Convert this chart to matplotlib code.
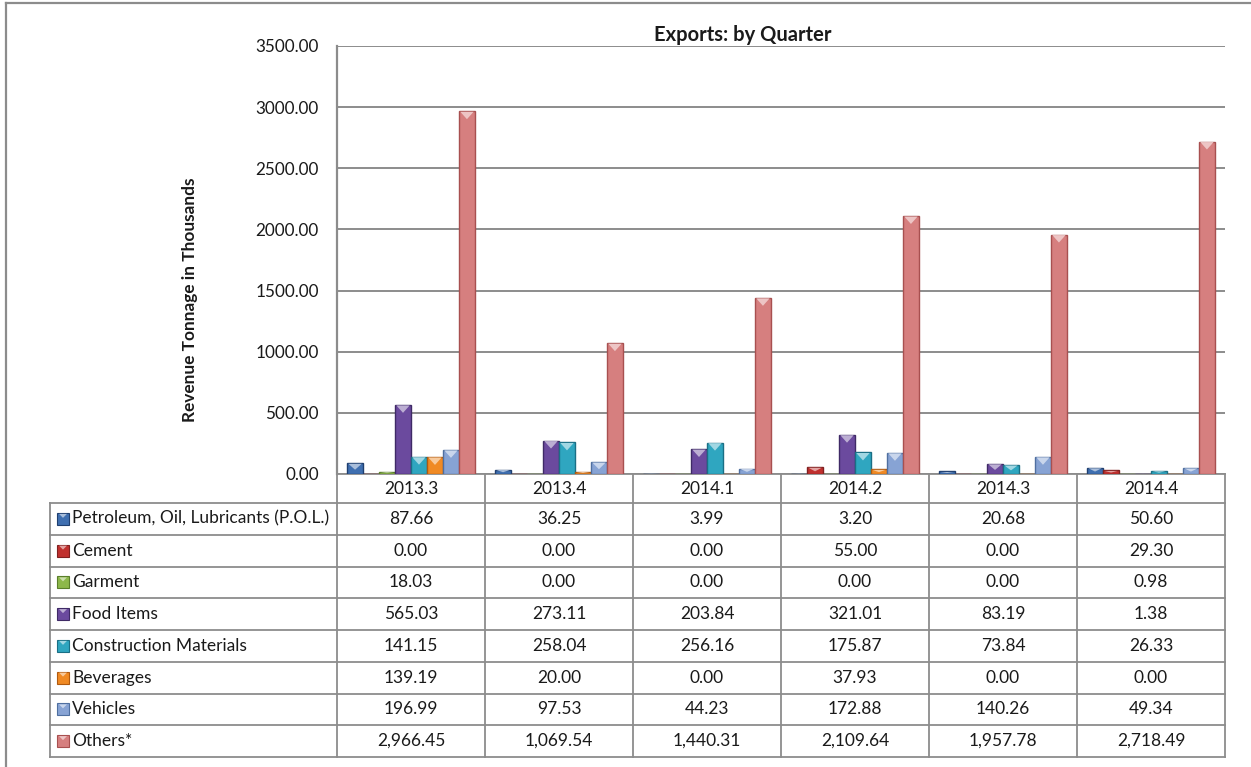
import numpy as np
import matplotlib
matplotlib.use('Agg')
import matplotlib.pyplot as plt
from matplotlib.patches import Rectangle, Polygon
from matplotlib.colors import to_rgb

plt.rcParams['font.family'] = ['Lato', 'DejaVu Sans']

quarters = ['2013.3', '2013.4', '2014.1', '2014.2', '2014.3', '2014.4']
series = ['Petroleum, Oil, Lubricants (P.O.L.)', 'Cement', 'Garment', 'Food Items',
          'Construction Materials', 'Beverages', 'Vehicles', 'Others*']
pol = [87.66, 36.25, 3.99, 3.20, 20.68, 50.60]
cement = [0.00, 0.00, 0.00, 55.00, 0.00, 29.30]
garment = [18.03, 0.00, 0.00, 0.00, 0.00, 0.98]
food = [565.03, 273.11, 203.84, 321.01, 83.19, 1.38]
construction = [141.15, 258.04, 256.16, 175.87, 73.84, 26.33]
beverages = [139.19, 20.00, 0.00, 37.93, 0.00, 0.00]
vehicles = [196.99, 97.53, 44.23, 172.88, 140.26, 49.34]
others = [2966.45, 1069.54, 1440.31, 2109.64, 1957.78, 2718.49]
values = [pol, cement, garment, food, construction, beverages, vehicles, others]

faces = ['#3F6FB0', '#C0302E', '#8DB84A', '#6B4A9E', '#2FA6C0', '#F08A24', '#87A3D4', '#D67F7F']
edges = ['#1F3F70', '#802020', '#5A7F2A', '#3F2A66', '#1A6F85', '#B05A10', '#4F6FA0', '#A85050']
grid_c = '#8C8C8C'
txt_c = '#1A1A1A'


def lighter(c, f=0.55):
    r, g, b = to_rgb(c)
    return (r + (1 - r) * f, g + (1 - g) * f, b + (1 - b) * f)


W, H = 1251, 767
fig = plt.figure(figsize=(W / 100, H / 100), dpi=100)

# overlay in pixel coords for frame, title and table
ov = fig.add_axes([0, 0, 1, 1])
ov.set_xlim(0, W)
ov.set_ylim(H, 0)
ov.axis('off')

# plot area
x0, x1, ytop, ybot = 337, 1225, 46, 474
ax = fig.add_axes([x0 / W, (H - ybot) / H, (x1 - x0) / W, (ybot - ytop) / H])
ax.set_facecolor('none')
ax.set_xlim(-0.5, len(quarters) - 0.5)
ax.set_ylim(0, 3500)
ax.set_yticks(np.arange(0, 3501, 500))
ax.set_yticklabels(['%.2f' % t for t in np.arange(0, 3501, 500)], fontsize=12.3, color=txt_c)
ax.set_xticks([])
ax.tick_params(axis='y', length=0, pad=13)
for s in ['top', 'right', 'bottom']:
    ax.spines[s].set_visible(False)
ax.spines['left'].set_color(grid_c)
ax.spines['left'].set_linewidth(1.6)
ax.yaxis.grid(True, color=grid_c, linewidth=1.4)
ax.set_axisbelow(True)

x = np.arange(len(quarters))
bw = 0.108
tri = 65.0  # depth of the bevel triangle in data units
for j, vals in enumerate(values):
    xs = x + (j - 3.5) * bw
    ax.bar(xs, vals, bw, color=faces[j], edgecolor=edges[j], linewidth=1.0, zorder=3)
    for xc, v in zip(xs, vals):
        if v <= 0:
            continue
        d = min(tri, v * 0.6)
        ax.add_patch(Polygon([[xc - bw * 0.42, v - 4], [xc + bw * 0.42, v - 4], [xc, v - d]],
                             closed=True, facecolor=lighter(faces[j]), edgecolor='none', zorder=4))

# frame (top and left only)
ov.plot([6, W], [3, 3], color=grid_c, linewidth=1.6)
ov.plot([6, 6], [3, H], color=grid_c, linewidth=1.6)

ov.text(743, 35, 'Exports: by Quarter', ha='center', va='center', fontsize=14.5,
        fontweight='bold', color=txt_c)
ov.text(190, 300, 'Revenue Tonnage in Thousands', ha='center', va='center', rotation=90,
        fontsize=12.4, fontweight='bold', color=txt_c)

# data table
lx = 50
cw = (x1 - x0) / len(quarters)
hb = 503
rh = (757 - hb) / len(series)
tb = hb + rh * len(series)
lw_t = 1.3
ov.plot([x0, x1], [ybot, ybot], color=grid_c, linewidth=lw_t)
for k in range(len(quarters) + 1):
    ov.plot([x0 + k * cw] * 2, [ybot, tb], color=grid_c, linewidth=lw_t)
ov.plot([lx, lx], [hb, tb], color=grid_c, linewidth=lw_t)
for r in range(len(series) + 1):
    ov.plot([lx, x1], [hb + r * rh] * 2, color=grid_c, linewidth=lw_t)

for k, q in enumerate(quarters):
    ov.text(x0 + (k + 0.5) * cw, (ybot + hb) / 2 + 1, q, ha='center', va='center',
            fontsize=12.5, color=txt_c)

for r, name in enumerate(series):
    yc = hb + (r + 0.5) * rh
    ov.add_patch(Rectangle((57, yc - 6), 12, 12, facecolor=faces[r], edgecolor=edges[r], linewidth=0.8))
    ov.add_patch(Polygon([[59, yc - 5], [67, yc - 5], [63, yc - 1]], closed=True,
                         facecolor=lighter(faces[r]), edgecolor='none'))
    ov.text(72, yc, name, ha='left', va='center', fontsize=12.5, color=txt_c)
    for k, v in enumerate(values[r]):
        ov.text(x0 + (k + 0.5) * cw, yc, f'{v:,.2f}', ha='center', va='center',
                fontsize=12.5, color=txt_c)

fig.savefig('out.png', dpi=100)
